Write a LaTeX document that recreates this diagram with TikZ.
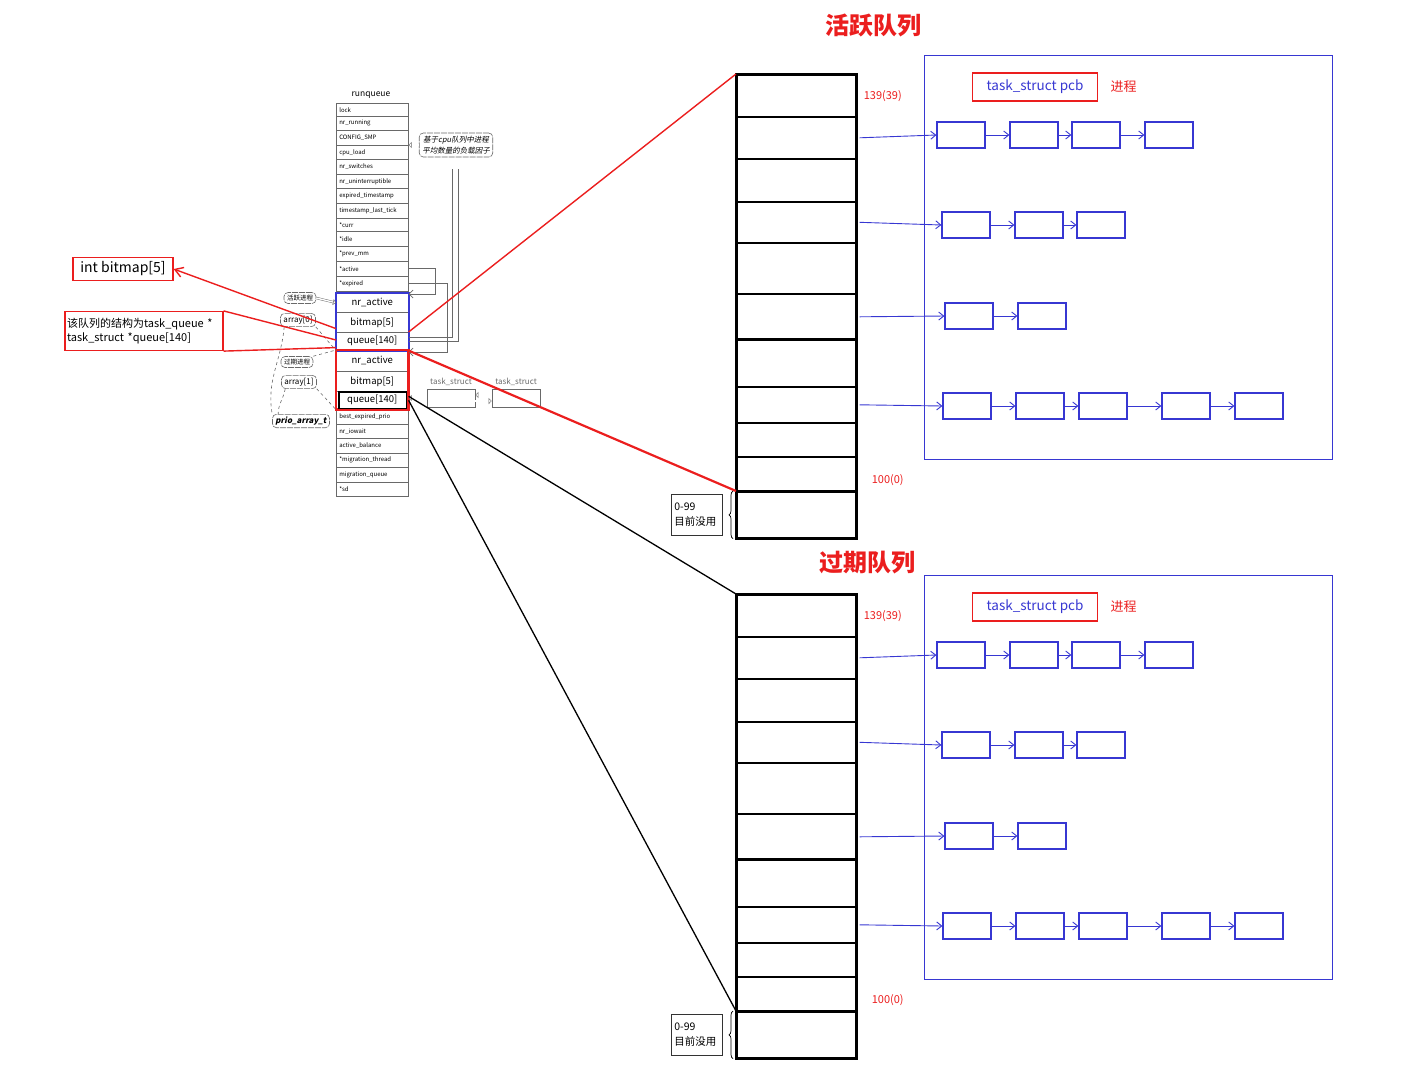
\documentclass[tikz,border=0pt]{standalone}
\usepackage{fontspec}
\setmainfont{Noto Sans CJK SC}
\newfontfamily\slantfont[FakeSlant=0.2]{Noto Sans CJK SC}
\usetikzlibrary{arrows.meta,positioning,calc,decorations.pathreplacing}
\definecolor{qblue}{RGB}{55,55,210}
\definecolor{qred}{RGB}{235,30,30}
\definecolor{rqgray}{RGB}{105,105,105}
\newcommand{\fs}[1]{\fontsize{#1}{#1}\selectfont}
\tikzset{
  rqfield/.style={anchor=north west,draw=rqgray,line width=0.6pt,text width=66pt,inner xsep=3pt,inner ysep=0pt,align=left,font=\fs{6}},
  arrfield/.style={rqfield,align=center,font=\fs{9.5}},
  note/.style={draw=rqgray,line width=0.6pt,rounded corners=4pt,dash pattern=on 6pt off 1pt,inner xsep=3pt,inner ysep=2.5pt,font=\fs{6.5}},
  dblarr/.style={draw=rqgray,double,double distance=1.4pt,line width=0.45pt,-{Triangle[open,length=3pt,width=6pt]}},
  rqline/.style={draw=rqgray,line width=0.7pt},
  dashline/.style={draw=rqgray,line width=0.6pt,dashed},
  redbox/.style={draw=qred,line width=1.2pt,inner sep=4pt},
  redline/.style={draw=qred,line width=1.4pt},
  qcell/.style={anchor=north west,draw=black,line width=1.6pt,minimum width=119pt,inner sep=0pt},
  qframe/.style={anchor=north west,draw=qblue,line width=1.2pt,minimum width=408pt,minimum height=404pt},
  pcb/.style={draw=qblue,line width=1.2pt,minimum width=48pt,minimum height=26pt,inner sep=0pt},
  link/.style={draw=qblue,line width=0.9pt,-{Straight Barb[length=5pt,width=8pt]}},
  numlbl/.style={text=qred,font=\fs{11},inner sep=0pt},
  qtitle/.style={text=qred,font=\fs{24}\bfseries}
}

\begin{document}
\begin{tikzpicture}[x=1pt,y=-1pt]
  \useasboundingbox (0,0) rectangle (1416,1072);

  % runqueue structure
  \node[font=\fs{8.5}] (rqname) at (371,95) {runqueue};
  \foreach \n/\ya/\yb/\t in {1/103/116/lock,2/116/130/nr\_running,3/130/145/CONFIG\_SMP,
      4/145/159/cpu\_load,5/159/174/nr\_switches,6/174/188/nr\_uninterruptible,
      7/188/203/expired\_timestamp,8/203/218/timestamp\_last\_tick,9/218/231/*curr,
      10/231/246/*idle,11/246/261/*prev\_mm,12/261/276/*active,13/276/291/*expired,
      14/409/424/best\_expired\_prio,15/424/438/nr\_iowait,16/438/453/active\_balance,
      17/453/467/*migration\_thread,18/467/482/migration\_queue,19/482/496/*sd}{
    \pgfmathsetmacro\h{\yb-\ya}
    \node[rqfield,minimum height=\h pt] (rq\n) at (336,\ya) {\t};
  }
  \foreach \n/\ya/\yb/\t in {a0nr/293/312/nr\_active,a0bm/312/332/bitmap[5],a0q/332/350/queue[140],
      a1nr/350/371/nr\_active,a1bm/371/391/bitmap[5],a1q/391/409/queue[140]}{
    \pgfmathsetmacro\h{\yb-\ya}
    \node[arrfield,minimum height=\h pt] (\n) at (336,\ya) {\t};
  }
  \draw[draw=qblue,line width=2.2pt] (a0nr.north west) rectangle (a0q.south east);
  \draw[draw=qred,line width=2.6pt] (a1nr.north west) rectangle (a1q.south east);
  \draw[line width=1.4pt] ([shift={(3pt,-1pt)}]a1q.north west) rectangle ([shift={(-2pt,1pt)}]a1q.south east);

  % notes around runqueue
  \node[note,align=center,font=\slantfont\fs{7.5},inner ysep=3pt] (cpunote) at (456,145) {基于cpu队列中进程\\[2pt]平均数量的负载因子};
  \draw[dblarr] (cpunote.west) -- (cpunote.west -| rq3.east);
  \draw[rqline] ([shift={(-4pt,-12pt)}]cpunote.south) |- ([yshift=4pt]a0q.east);
  \draw[rqline] ([shift={(2pt,-12pt)}]cpunote.south) |- (a0q.east);
  \draw[rqline,-{Straight Barb[length=4pt]}] (rq12.east) -- ++(27,0) |- ([yshift=-1pt]a0nr.north east);
  \draw[rqline,-{Straight Barb[length=4pt]}] (rq13.east) -- ++(39,0) |- ([yshift=-2pt]a1nr.north east);

  \node[note] (actnote) at (300,298) {活跃进程};
  \node[note,font=\fs{8}] (arr0) at (298,320) {array[0]};
  \node[note] (expnote) at (297,362) {过期进程};
  \node[note,font=\fs{8}] (arr1) at (299,382) {array[1]};
  \node[note,font=\slantfont\fs{8}\bfseries] (prio) at (301,421) {prio\_array\_t};
  \draw[dblarr] (actnote.east) -- (a0nr.west);
  \draw[dashline] ([xshift=4pt]arr0.south west) to[out=-95,in=100] (prio.north west);
  \draw[dashline] ([xshift=4pt]arr1.south west) to[out=-100,in=90] ([xshift=6pt]prio.north west);
  \draw[dashline] (arr0.south east) -- (a0q.south west);
  \draw[dashline] (expnote.north east) -- (a1nr.north west);
  \draw[dashline] (arr1.south east) -- (a1q.south west);

  \node[draw=rqgray,line width=0.6pt,minimum width=48pt,minimum height=18pt,
    label={[font=\fs{8},text=rqgray]above:task\_struct}] (ts1) at (451,398) {};
  \node[draw=rqgray,line width=0.6pt,minimum width=48pt,minimum height=18pt,
    label={[font=\fs{8},text=rqgray]above:task\_struct}] (ts2) at (516,398) {};
  \draw[dblarr] (ts1.west) -- (ts1.west -| a1q.east);
  \draw[dblarr] ([yshift=3pt]ts2.west) -- ([yshift=3pt]ts1.east);
  \draw[dblarr] ([yshift=-3pt]ts1.east) -- ([yshift=-3pt]ts2.west);

  % red callouts on the left
  \node[redbox,font=\fs{14},minimum width=100pt,minimum height=23pt] (bmnote) at (123,269) {int bitmap[5]};
  \node[redbox,align=left,font=\fs{11},inner sep=2pt,minimum height=39pt,text width=154pt] (qnote) at (144,331) {该队列的结构为task\_queue *\\[1pt]task\_struct *queue[140]};
  \draw[redline,-{Straight Barb[length=8pt,width=10pt]}] ([yshift=4pt]a0bm.south west) -- (bmnote.east);
  \draw[redline] (qnote.north east) -- ([yshift=-8pt]a0q.north west);
  \draw[redline] (qnote.south east) -- ([yshift=3pt]a0q.south west);

  % the two queues
  \node[qtitle] (acttitle) at (873,25) {活跃队列};
  \node[qtitle] (exptitle) at (867,563) {过期队列};
  \foreach \q/\dy in {act/0,exp/520}{
    \begin{scope}[shift={(0,\dy)}]
      \foreach \r/\ya/\yb in {1/74/116,2/116/158,3/158/201,4/201/242,5/242/293,6/293/339,
          7/339/386,8/386/422,9/422/456,10/456/491,11/491/537}{
        \pgfmathsetmacro\h{\yb-\ya}
        \node[qcell,minimum height=\h pt] (\q\r) at (736,\ya) {};
      }
      \draw[line width=2.8pt] (\q1.north west) rectangle (\q11.south east);
      \draw[line width=2.4pt] (\q7.north west) -- (\q7.north east);
      \draw[line width=2.4pt] (\q11.north west) -- (\q11.north east);
      \node[numlbl,anchor=west] (\q hi) at ([xshift=7pt]\q1.east) {139(39)};
      \node[numlbl,anchor=west] (\q lo) at ([shift={(15pt,-6pt)}]\q10.east) {100(0)};
      \node[draw=black!80,line width=1.2pt,align=left,font=\fs{10.5},inner sep=3pt,text width=45pt,
        minimum height=41pt,anchor=east] (\q free) at ([xshift=-13pt]\q11.west) {0-99\\[4pt]目前没用};
      \draw[decorate,decoration={brace,amplitude=4pt},line width=0.7pt] ([xshift=-3pt]\q11.south west) -- ([xshift=-3pt]\q11.north west);

      \node[qframe,minimum height=404pt] (\q frame) at (924,55) {};
      \node[redbox,minimum width=125pt,minimum height=28pt,text=qblue,font=\fs{13.5}] (\q pcb) at (1035,87) {task\_struct pcb};
      \node[right=9pt of \q pcb,text=qred,font=\fs{13}] (\q proc) {进程};

      \foreach \r/\y/\xs in {2/135/{961,1034,1096,1169},4/225/{966,1039,1101},
          6/316/{969,1042},8/406/{967,1040,1103,1186,1259}}{
        \foreach \x [count=\c] in \xs {
          \node[pcb] (\q b\r\c) at (\x,\y) {};
          \ifnum\c>1
            \pgfmathtruncatemacro\p{\c-1}
            \draw[link] (\q b\r\p.east) -- (\q b\r\c.west);
          \fi
        }
        \draw[link] ([xshift=3pt]\q\r.east) -- (\q b\r1.west);
      }
    \end{scope}
  }

  % links from runqueue to the queues
  \draw[redline] (a0q.north east) -- (act1.north west);
  \draw[redline,line width=2.2pt] (a0q.south east) -- (act11.north west);
  \draw[line width=1.3pt] ([yshift=4pt]a1q.east) -- (exp1.north west);
  \draw[line width=1.3pt] (a1q.east) -- (exp11.north west);
\end{tikzpicture}
\end{document}
